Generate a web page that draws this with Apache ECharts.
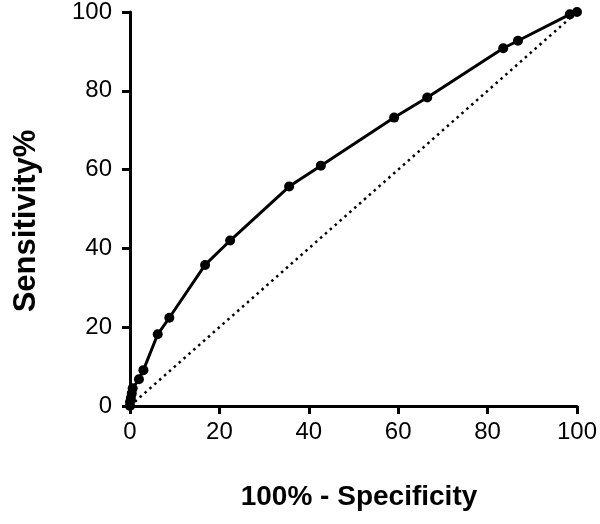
<!DOCTYPE html>
<html><head><meta charset="utf-8">
<script src="https://cdn.jsdelivr.net/npm/echarts@6/dist/echarts.min.js"></script>
<style>html,body{margin:0;padding:0;background:#fff}#c{width:600px;height:524px}</style>
</head><body><div id="c"></div>
<script>
const fpr = [0, 0, 0.2, 0.4, 0.6, 2.0, 3.0, 6.2, 8.8, 16.8, 22.4, 35.6, 42.7, 59.1, 66.5, 83.5, 86.8, 98.4, 100];
const sens = [0, 1.0, 2.0, 3.2, 4.5, 6.8, 9.1, 18.2, 22.4, 35.8, 42.0, 55.7, 61.0, 73.2, 78.3, 90.8, 92.7, 99.4, 100];
const refX = [0, 100];
const refY = [0, 100];
const xTicks = [0, 20, 40, 60, 80, 100];
const yTicks = [0, 20, 40, 60, 80, 100];
const xTitle = '100% - Specificity';
const yTitle = 'Sensitivity%';

const font = '"Liberation Sans", Arial, sans-serif';
const chart = echarts.init(document.getElementById('c'));
const axisCommon = {
  min: 0, max: 100, interval: 20,
  axisLine: {show: true, onZero: false, lineStyle: {color: '#000', width: 3}},
  axisTick: {show: true, length: 8, lineStyle: {color: '#000', width: 3}},
  splitLine: {show: false}
};
chart.setOption({
  animation: false,
  grid: {left: 130, right: 22, top: 11, bottom: 118, containLabel: false},
  xAxis: Object.assign({}, axisCommon, {
    type: 'value',
    axisLabel: {margin: 14, fontFamily: font, fontSize: 24, color: '#000',
      formatter: v => xTicks.includes(v) ? String(v) : ''}
  }),
  yAxis: Object.assign({}, axisCommon, {
    type: 'value',
    axisLabel: {margin: 18, fontFamily: font, fontSize: 24, color: '#000',
      formatter: v => yTicks.includes(v) ? String(v) : ''}
  }),
  graphic: [
    {type: 'text', x: 359, y: 497,
     style: {text: xTitle, font: 'bold 28px ' + font, fill: '#000', align: 'center', verticalAlign: 'middle'}},
    {type: 'text', x: 26, y: 221, rotation: Math.PI / 2,
     style: {text: yTitle, font: 'bold 31px ' + font, fill: '#000', align: 'center', verticalAlign: 'middle'}}
  ],
  series: [
    {type: 'line', data: refX.map((x, i) => [x, refY[i]]), symbol: 'none',
     lineStyle: {color: '#000', width: 2.5, type: [2.5, 4]}, z: 1},
    {type: 'line', data: fpr.map((x, i) => [x, sens[i]]), symbol: 'circle', symbolSize: 10,
     itemStyle: {color: '#000'}, lineStyle: {color: '#000', width: 3}, z: 2}
  ]
});
</script></body></html>
